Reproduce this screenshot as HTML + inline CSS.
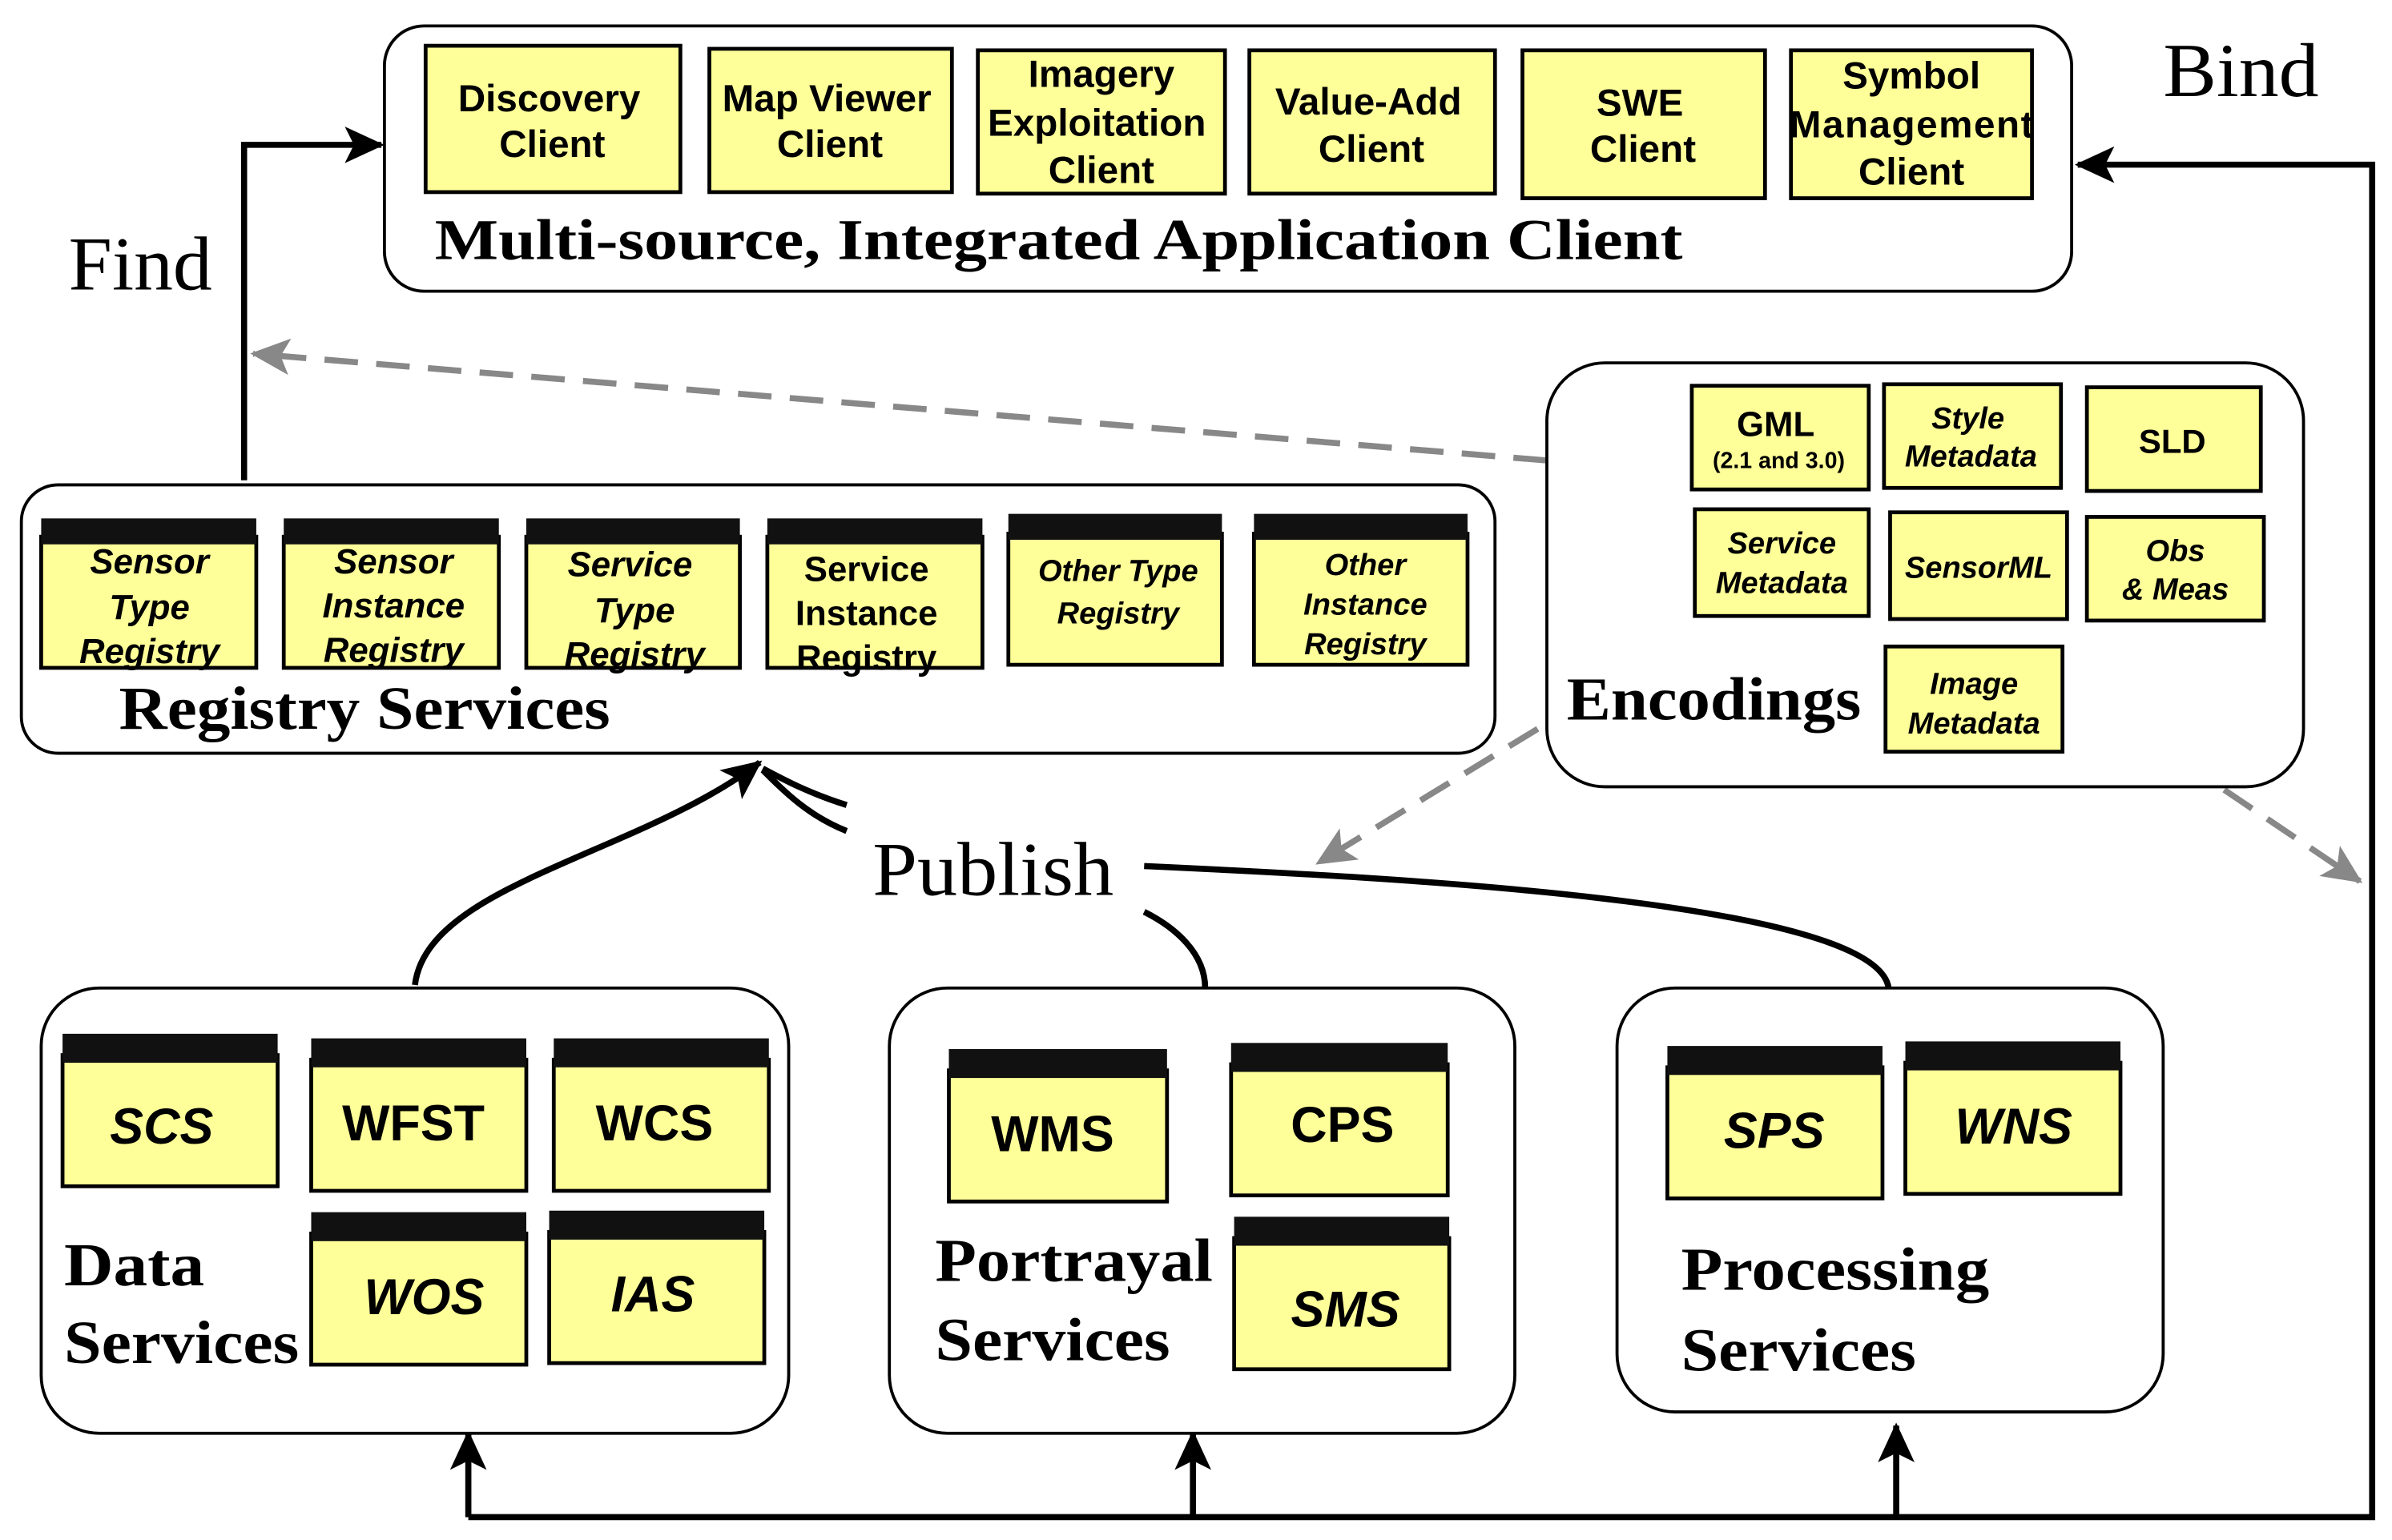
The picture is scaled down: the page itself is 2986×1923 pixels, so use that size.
<!DOCTYPE html>
<html><head><meta charset="utf-8"><style>
html,body{margin:0;padding:0;background:#fff;}
svg{display:block;}
.b{fill:#ffff99;stroke:#000;stroke-width:2.5;}
.h{fill:#111;}
.t{font-family:"Liberation Sans",sans-serif;font-weight:bold;text-anchor:middle;fill:#000;}
.s{font-family:"Liberation Serif",serif;font-weight:bold;fill:#000;}
.g{fill:#fff;stroke:#000;stroke-width:2;}
</style></head><body>
<svg width="2986" height="1923" viewBox="0 0 1568 1010" preserveAspectRatio="none" xmlns="http://www.w3.org/2000/svg">
<defs>
<marker id="ab" markerWidth="26" markerHeight="24" refX="24" refY="12" orient="auto" markerUnits="userSpaceOnUse"><path d="M0,0 L26,12 L0,24 L6,12z" fill="#000"/></marker>
<marker id="ag" markerWidth="26" markerHeight="24" refX="24" refY="12" orient="auto" markerUnits="userSpaceOnUse"><path d="M0,0 L26,12 L0,24 L6,12z" fill="#888"/></marker>
</defs>
<rect width="1568" height="1010" fill="#fff"/>
<polyline points="160,315 160,95 250,95" fill="none" stroke="#000" stroke-width="4" marker-end="url(#ab)"/>
<polyline points="307,995 1555,995 1555,108 1362,108" fill="none" stroke="#000" stroke-width="4" marker-end="url(#ab)"/>
<line x1="307" y1="995" x2="307" y2="940" stroke="#000" stroke-width="4" marker-end="url(#ab)"/>
<line x1="782" y1="995" x2="782" y2="940" stroke="#000" stroke-width="4" marker-end="url(#ab)"/>
<line x1="1243" y1="995" x2="1243" y2="935" stroke="#000" stroke-width="4" marker-end="url(#ab)"/>
<line x1="1014" y1="302" x2="166" y2="232" stroke="#888" stroke-width="4" stroke-dasharray="22,12" marker-end="url(#ag)"/>
<line x1="1008" y1="478" x2="864" y2="566" stroke="#888" stroke-width="4" stroke-dasharray="22,12" marker-end="url(#ag)"/>
<line x1="1458" y1="518" x2="1547" y2="578" stroke="#888" stroke-width="4" stroke-dasharray="22,12" marker-end="url(#ag)"/>
<path d="M272,646 C280,580 420,560 498,500" fill="none" stroke="#000" stroke-width="4" marker-end="url(#ab)"/>
<path d="M555,545 C530,535 515,520 500,505" fill="none" stroke="#000" stroke-width="4"/>
<path d="M555,528 C530,520 515,512 500,504" fill="none" stroke="#000" stroke-width="4"/>
<path d="M790,648 C790,625 770,608 750,598" fill="none" stroke="#000" stroke-width="4"/>
<path d="M1238,648 C1230,590 900,575 750,568" fill="none" stroke="#000" stroke-width="4"/>
<rect class="g" x="252" y="17" width="1106" height="174" rx="26"/>
<g class="t" style="font-size:25px">
<rect class="b" x="279" y="30" width="167" height="96"/><text x="360" y="73">Discovery</text><text x="362" y="103">Client</text>
<rect class="b" x="465" y="32" width="159" height="94"/><text x="542" y="73">Map Viewer</text><text x="544" y="103">Client</text>
<rect class="b" x="641" y="33" width="162" height="94"/><text x="722" y="57">Imagery</text><text x="719" y="89">Exploitation</text><text x="722" y="120">Client</text>
<rect class="b" x="819" y="33" width="161" height="94"/><text x="897" y="75">Value-Add</text><text x="899" y="106">Client</text>
<rect class="b" x="998" y="33" width="159" height="97"/><text x="1075" y="76">SWE</text><text x="1077" y="106">Client</text>
<rect class="b" x="1174" y="33" width="158" height="97"/><text x="1253" y="58">Symbol</text><text x="1253" y="90" textLength="160">Management</text><text x="1253" y="121">Client</text>
</g>
<text class="s" x="285" y="170" font-size="38" textLength="818" lengthAdjust="spacingAndGlyphs">Multi-source, Integrated Application Client</text>
<text x="45" y="190" font-family="Liberation Serif,serif" font-size="50" textLength="94" lengthAdjust="spacingAndGlyphs">Find</text>
<text x="1418" y="63" font-family="Liberation Serif,serif" font-size="50" textLength="102" lengthAdjust="spacingAndGlyphs">Bind</text>
<rect class="g" x="14" y="318" width="966" height="176" rx="24"/>
<g class="t" style="font-size:23px;font-style:italic">
<rect class="b" x="27" y="352" width="141" height="86"/><rect class="h" x="27" y="340" width="141" height="17"/><text x="98" y="376">Sensor</text><text x="98" y="406">Type</text><text x="98" y="435">Registry</text>
<rect class="b" x="186" y="352" width="141" height="86"/><rect class="h" x="186" y="340" width="141" height="17"/><text x="258" y="376">Sensor</text><text x="258" y="405">Instance</text><text x="258" y="434">Registry</text>
<rect class="b" x="345" y="352" width="140" height="86"/><rect class="h" x="345" y="340" width="140" height="17"/><text x="413" y="378">Service</text><text x="416" y="408">Type</text><text x="416" y="437">Registry</text>
<rect class="b" x="503" y="352" width="141" height="86"/><rect class="h" x="503" y="340" width="141" height="17"/><text x="568" y="381" style="font-style:normal">Service</text><text x="568" y="410" style="font-style:normal">Instance</text><text x="568" y="439" style="font-style:normal">Registry</text>
<rect class="b" x="661" y="350" width="140" height="86"/><rect class="h" x="661" y="337" width="140" height="17"/><text x="733" y="381" style="font-size:20px">Other Type</text><text x="733" y="409" style="font-size:20px">Registry</text>
<rect class="b" x="822" y="350" width="140" height="86"/><rect class="h" x="822" y="337" width="140" height="17"/><text x="895" y="377" style="font-size:20px">Other</text><text x="895" y="403" style="font-size:20px">Instance</text><text x="895" y="429" style="font-size:20px">Registry</text>
</g>
<text class="s" x="78" y="478" font-size="40" textLength="322" lengthAdjust="spacingAndGlyphs">Registry Services</text>
<rect class="g" x="1014" y="238" width="496" height="278" rx="38"/>
<g class="t" style="font-size:20px">
<rect class="b" x="1109" y="253" width="116" height="68"/><text x="1164" y="286" style="font-size:23px">GML</text><text x="1166" y="307" style="font-size:15px">(2.1 and 3.0)</text>
<rect class="b" x="1235" y="252" width="116" height="68"/><text x="1290" y="281" style="font-style:italic">Style</text><text x="1292" y="306" style="font-style:italic">Metadata</text>
<rect class="b" x="1368" y="254" width="114" height="68"/><text x="1424" y="297" style="font-size:22px">SLD</text>
<rect class="b" x="1111" y="334" width="114" height="70"/><text x="1168" y="363" style="font-style:italic">Service</text><text x="1168" y="389" style="font-style:italic">Metadata</text>
<rect class="b" x="1239" y="336" width="116" height="70"/><text x="1297" y="379" style="font-style:italic">SensorML</text>
<rect class="b" x="1368" y="339" width="116" height="68"/><text x="1426" y="368" style="font-style:italic">Obs</text><text x="1426" y="393" style="font-style:italic">&amp; Meas</text>
<rect class="b" x="1236" y="424" width="116" height="69"/><text x="1294" y="455" style="font-style:italic">Image</text><text x="1294" y="481" style="font-style:italic">Metadata</text>
</g>
<text class="s" x="1027" y="472" font-size="40" textLength="193" lengthAdjust="spacingAndGlyphs">Encodings</text>
<text x="572" y="587" font-family="Liberation Serif,serif" font-size="50" textLength="158" lengthAdjust="spacingAndGlyphs">Publish</text>
<rect class="g" x="27" y="648" width="490" height="292" rx="38"/>
<g class="t" style="font-size:33px;font-style:italic">
<rect class="b" x="41" y="692" width="141" height="86"/><rect class="h" x="41" y="678" width="141" height="19"/><text x="106" y="750">SCS</text>
<rect class="b" x="204" y="695" width="141" height="86"/><rect class="h" x="204" y="681" width="141" height="19"/><text x="271" y="748" style="font-style:normal">WFST</text>
<rect class="b" x="363" y="695" width="141" height="86"/><rect class="h" x="363" y="681" width="141" height="19"/><text x="429" y="748" style="font-style:normal">WCS</text>
<rect class="b" x="204" y="809" width="141" height="86"/><rect class="h" x="204" y="795" width="141" height="19"/><text x="278" y="862">WOS</text>
<rect class="b" x="360" y="808" width="141" height="86"/><rect class="h" x="360" y="794" width="141" height="19"/><text x="428" y="860">IAS</text>
</g>
<text class="s" x="42" y="843" font-size="40" textLength="92" lengthAdjust="spacingAndGlyphs">Data</text><text class="s" x="42" y="894" font-size="40" textLength="154" lengthAdjust="spacingAndGlyphs">Services</text>
<rect class="g" x="583" y="648" width="410" height="292" rx="38"/>
<g class="t" style="font-size:33px">
<rect class="b" x="622" y="702" width="143" height="86"/><rect class="h" x="622" y="688" width="143" height="19"/><text x="690" y="755">WMS</text>
<rect class="b" x="807" y="698" width="142" height="86"/><rect class="h" x="807" y="684" width="142" height="19"/><text x="880" y="749">CPS</text>
<rect class="b" x="809" y="812" width="141" height="86"/><rect class="h" x="809" y="798" width="141" height="19"/><text x="882" y="870" style="font-style:italic">SMS</text>
</g>
<text class="s" x="613" y="840" font-size="40" textLength="182" lengthAdjust="spacingAndGlyphs">Portrayal</text><text class="s" x="613" y="892" font-size="40" textLength="154" lengthAdjust="spacingAndGlyphs">Services</text>
<rect class="g" x="1060" y="648" width="358" height="278" rx="38"/>
<g class="t" style="font-size:33px;font-style:italic">
<rect class="b" x="1093" y="700" width="141" height="86"/><rect class="h" x="1093" y="686" width="141" height="19"/><text x="1163" y="753">SPS</text>
<rect class="b" x="1249" y="697" width="141" height="86"/><rect class="h" x="1249" y="683" width="141" height="19"/><text x="1320" y="750">WNS</text>
</g>
<text class="s" x="1102" y="846" font-size="40" textLength="202" lengthAdjust="spacingAndGlyphs">Processing</text><text class="s" x="1102" y="899" font-size="40" textLength="154" lengthAdjust="spacingAndGlyphs">Services</text>
</svg>
</body></html>
